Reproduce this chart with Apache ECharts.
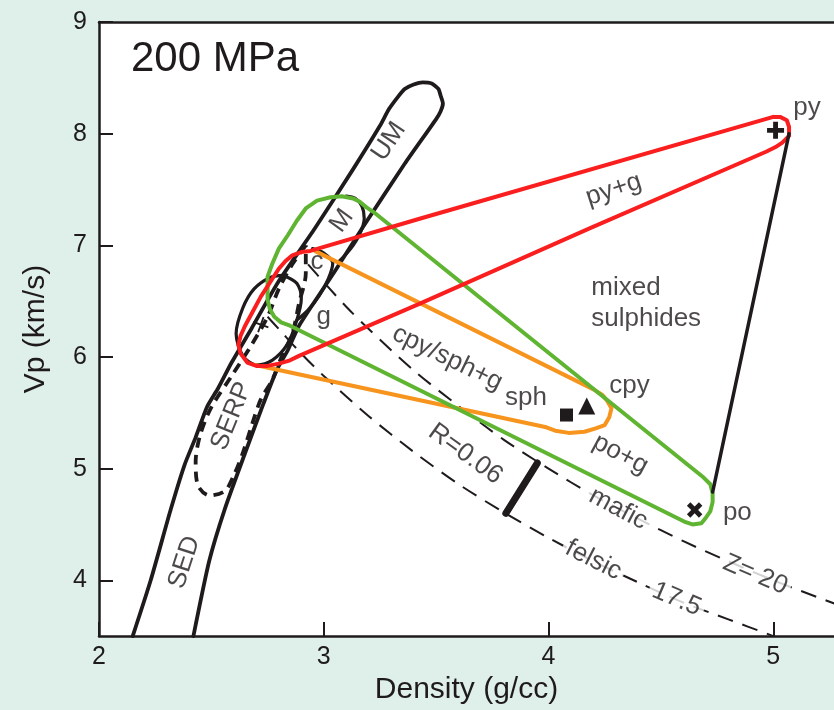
<!DOCTYPE html>
<html><head><meta charset="utf-8">
<script src="https://cdn.jsdelivr.net/npm/echarts@6/dist/echarts.min.js"></script>
<style>html,body{margin:0;padding:0;background:#dfefe9;}#c{width:834px;height:710px;}</style>
</head><body><div id="c"></div>
<script>
// ---------- data (density g/cc, Vp km/s) ----------
const densityTicks = [2, 3, 4, 5];
const vpTicks = [4, 5, 6, 7, 8, 9];

const tubeOutline = [[2.15,3.5],[2.23,4.0],[2.32,4.64],[2.38,5.03],[2.43,5.28],[2.48,5.55],[2.53,5.72],[2.59,5.95],[2.68,6.26],[2.80,6.68],[2.96,7.15],[3.13,7.68],[3.25,8.07],[3.29,8.22],[3.33,8.33],[3.36,8.40],[3.40,8.44],[3.44,8.46],[3.48,8.45],[3.51,8.40],[3.52,8.34],[3.53,8.27],[3.52,8.20],[3.50,8.13],[3.36,7.73],[3.17,7.15],[3.05,6.77],[2.89,6.28],[2.84,6.06],[2.79,5.88],[2.72,5.52],[2.65,5.14],[2.56,4.64],[2.49,4.17],[2.42,3.5]];
const mafArc = [[3.10,7.44],[3.14,7.42],[3.17,7.35],[3.18,7.24],[3.16,7.10],[3.12,6.97],[3.07,6.86]];
const cArc = [[2.95,6.97],[3.00,6.93],[3.04,6.84],[3.02,6.70],[2.98,6.55],[2.93,6.42],[2.88,6.33]];
const gLoop = [[2.82,6.73],[2.88,6.66],[2.90,6.52],[2.88,6.33],[2.84,6.12],[2.77,5.97],[2.70,5.93],[2.64,6.01],[2.61,6.21],[2.64,6.44],[2.69,6.61],[2.76,6.71],[2.82,6.73]];
const serpLoop = [[2.92,7.00],[2.86,6.83],[2.80,6.61],[2.75,6.36],[2.67,6.08],[2.59,5.83],[2.50,5.55],[2.45,5.30],[2.43,5.06],[2.44,4.85],[2.49,4.76],[2.56,4.80],[2.60,4.94],[2.64,5.14],[2.68,5.39],[2.72,5.62],[2.77,5.79],[2.81,5.99],[2.86,6.21],[2.89,6.48],[2.92,6.75],[2.92,7.00]];

const pyLoop = [[5.00,8.15],[5.03,8.15],[5.06,8.12],[5.07,8.06],[5.07,7.98],[5.04,7.92],[5.01,7.88],[4.97,7.84],[4.18,7.15],[3.43,6.48],[2.89,6.01],[2.85,5.97],[2.80,5.94],[2.75,5.92],[2.70,5.92],[2.66,5.95],[2.63,6.03],[2.62,6.11],[2.63,6.19],[2.65,6.28],[2.72,6.54],[2.80,6.79],[2.83,6.86],[2.86,6.91],[2.90,6.94],[2.94,6.95],[3.43,7.24],[5.00,8.15]];
const cpySphLoop = [[2.96,6.95],[4.20,5.71],[4.24,5.66],[4.26,5.61],[4.28,5.54],[4.27,5.46],[4.25,5.39],[4.21,5.36],[4.16,5.33],[4.09,5.32],[4.03,5.34],[3.99,5.37],[2.69,5.93]];
const poLoop = [[2.75,6.61],[2.75,6.72],[2.77,6.83],[2.80,6.97],[2.84,7.09],[2.88,7.22],[2.92,7.33],[2.97,7.40],[3.03,7.43],[3.08,7.44],[3.13,7.42],[3.16,7.39],[3.19,7.34],[3.22,7.30],[4.69,4.92],[4.72,4.86],[4.73,4.78],[4.73,4.70],[4.72,4.62],[4.70,4.56],[4.68,4.51],[4.64,4.50],[4.61,4.52],[2.85,6.28],[2.81,6.31],[2.78,6.36],[2.76,6.43],[2.75,6.51],[2.75,6.61]];
const sulphideEdge = [[5.07,8.00],[4.73,4.79]];

const z20Line = [[2.93,6.83],[3.0,6.67],[3.1,6.45],[3.2,6.25],[3.4,5.88],[3.6,5.56],[3.8,5.26],[4.0,5.0],[4.2,4.76],[4.4,4.55],[4.6,4.35],[4.8,4.17],[5.0,4.0],[5.3,3.77]];
const z175Line = [[2.75,6.36],[2.8,6.25],[2.9,6.03],[3.0,5.83],[3.2,5.47],[3.4,5.15],[3.6,4.86],[3.8,4.61],[4.0,4.38],[4.2,4.17],[4.4,3.98],[4.6,3.80],[4.8,3.65],[5.0,3.50]];
const rBar = [[3.95,5.05],[3.81,4.60]];

const pyPoint = [5.01, 8.03];
const poPoint = [4.65, 4.63];
const cpyPoint = [4.17, 5.56];
const sphPoint = [4.08, 5.48];
const fluidPoint = [2.72, 6.29];

// ---------- annotations ----------
const annotations = [
  {t:'py', at:[5.15,8.23], r:0},
  {t:'cpy', at:[4.36,5.74], r:0},
  {t:'po', at:[4.84,4.60], r:0},
  {t:'sph', at:[3.90,5.63], r:0},
  {t:'mixed', at:[4.19,6.62], r:0, align:'left'},
  {t:'sulphides', at:[4.19,6.34], r:0, align:'left'},
  {t:'py+g', at:[4.29,7.50], r:18},
  {t:'cpy/sph+g', at:[3.55,5.99], r:-26},
  {t:'po+g', at:[4.32,5.13], r:-28},
  {t:'mafic', at:[4.31,4.64], r:-28, bg:true},
  {t:'Z= 20', at:[4.92,4.05], r:-23, bg:true},
  {t:'felsic', at:[4.20,4.18], r:-27, bg:true},
  {t:'17.5', at:[4.57,3.83], r:-23, bg:true},
  {t:'R=0.06', at:[3.63,5.13], r:-36},
  {t:'UM', at:[3.29,7.93], r:56},
  {t:'M', at:[3.08,7.22], r:54},
  {t:'c', at:[2.97,6.85], r:0},
  {t:'g', at:[3.00,6.36], r:0},
  {t:'SERP', at:[2.59,5.47], r:68},
  {t:'SED', at:[2.38,4.16], r:72}
];

const FONT = '"Liberation Sans", Arial, Helvetica, sans-serif';
const INK = '#1f1b1c';
const RED = '#fa1e1e', ORANGE = '#f7941d', GREEN = '#5fb432';

function curve(name, data, color, width, extra) {
  return Object.assign({
    name: name, type: 'line', data: data, showSymbol: false, symbol: 'none',
    smooth: false, silent: true,
    lineStyle: {color: color, width: width, cap: 'round', join: 'round', opacity: 1}
  }, extra || {});
}
function dashed(name, data, color, width, dash, extra) {
  const s = curve(name, data, color, width, extra);
  s.lineStyle.type = dash;
  s.lineStyle.cap = 'butt';
  return s;
}
const PLUS = 'path://M5,0H9V5H14V9H9V14H5V9H0V5H5Z';
const THINPLUS = 'path://M6.2,0H7.8V6.2H14V7.8H7.8V14H6.2V7.8H0V6.2H6.2Z';

function point(name, p, symbol, size, rotate) {
  return {name: name, type: 'scatter', data: [p], symbol: symbol, symbolSize: size,
    symbolRotate: rotate || 0, silent: true, itemStyle: {color: INK, opacity: 1}, z: 5};
}

const labelSeries = {
  type: 'scatter', silent: true, symbolSize: 0, z: 10,
  data: annotations.map(a => ({
    value: a.at,
    label: {
      show: true, formatter: a.t, position: 'inside', rotate: a.r,
      align: a.align || 'center', verticalAlign: 'middle',
      fontSize: 26, fontFamily: FONT, color: INK,
      backgroundColor: a.bg ? '#ffffff' : 'transparent', padding: a.bg ? [0, 4] : 0
    }
  }))
};

const chart = echarts.init(document.getElementById('c'));
chart.setOption({
  backgroundColor: '#dfefe9',
  animation: false,
  title: {text: '200 MPa', left: 126, top: 33,
    textStyle: {fontFamily: FONT, fontSize: 42, fontWeight: 'normal', color: INK}},
  grid: {left: 99, right: 0, top: 22, bottom: 71, show: true, backgroundColor: '#ffffff', borderWidth: 0},
  xAxis: [{
    type: 'value', min: 2, max: 5.27,
    name: 'Density (g/cc)', nameLocation: 'middle', nameGap: 20,
    nameTextStyle: {fontFamily: FONT, fontSize: 30, color: INK},
    axisLine: {show: true, onZero: false, lineStyle: {color: INK, width: 2.5}},
    axisTick: {show: true, inside: true, length: 14, customValues: densityTicks, lineStyle: {color: INK, width: 2}},
    axisLabel: {customValues: densityTicks, fontSize: 25, fontFamily: FONT, color: INK, margin: 9},
    splitLine: {show: false}
  }, {
    type: 'value', position: 'top', min: 2, max: 5.27,
    axisLine: {show: true, onZero: false, lineStyle: {color: INK, width: 2.5}},
    axisTick: {show: false}, axisLabel: {show: false}, splitLine: {show: false}
  }],
  yAxis: {
    type: 'value', min: 3.5, max: 9,
    name: 'Vp (km/s)', nameLocation: 'middle', nameGap: 48,
    nameTextStyle: {fontFamily: FONT, fontSize: 30, color: INK},
    axisLine: {show: true, onZero: false, lineStyle: {color: INK, width: 2.5}},
    axisTick: {show: true, inside: true, length: 14, customValues: vpTicks, lineStyle: {color: INK, width: 2}},
    axisLabel: {customValues: vpTicks, fontSize: 25, fontFamily: FONT, color: INK, margin: 12},
    splitLine: {show: false}
  },
  series: [
    dashed('Z=20 (mafic)', z20Line, INK, 2, [16, 10], {smooth: 0.3}),
    dashed('Z=17.5 (felsic)', z175Line, INK, 2, [16, 10], {smooth: 0.3}),
    curve('R bar', rBar, INK, 7),
    curve('rock tube', tubeOutline, INK, 3.8, {smooth: 0.2}),
    curve('M', mafArc, INK, 3.2, {smooth: 0.3}),
    curve('c', cArc, INK, 3.2, {smooth: 0.3}),
    curve('g', gLoop, INK, 3.2, {smooth: 0.3}),
    dashed('SERP', serpLoop, INK, 3.8, [10, 7], {smooth: 0.3}),
    curve('cpy/sph+g', cpySphLoop, ORANGE, 4),
    curve('po+g', poLoop, GREEN, 4),
    curve('py+g', pyLoop, RED, 4),
    curve('mixed sulphides', sulphideEdge, INK, 3.5),
    point('py', pyPoint, PLUS, 17, 0),
    point('po', poPoint, PLUS, 17, 45),
    point('cpy', cpyPoint, 'triangle', 17, 0),
    point('sph', sphPoint, 'rect', 13, 0),
    point('fluid', fluidPoint, THINPLUS, 16, -20),
    labelSeries
  ]
});
</script></body></html>
